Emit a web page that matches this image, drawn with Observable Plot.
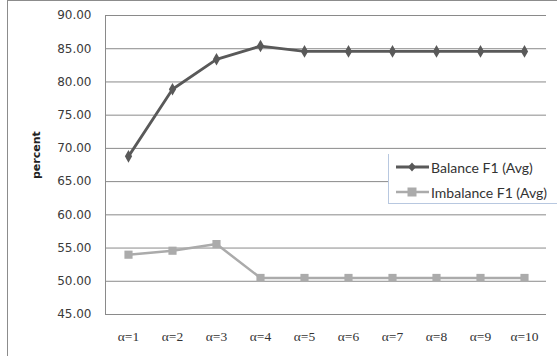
<!DOCTYPE html>
<html>
<head>
<meta charset="utf-8">
<script src="https://cdn.jsdelivr.net/npm/d3@7"></script>
<script src="https://cdn.jsdelivr.net/npm/@observablehq/plot@0.6"></script>
<style>
  html, body { margin: 0; padding: 0; background: #fff; }
  #wrap { position: relative; width: 557px; height: 356px; overflow: hidden; }
  #frame { position: absolute; left: 7px; top: 0; width: 560px; height: 360px;
           border-left: 1px solid #8c8c8c; border-top: 1px solid #8c8c8c; box-sizing: border-box; pointer-events: none; }
  #legend { position: absolute; left: 388px; top: 154px; width: 170px; height: 49px;
            background: #fff; border-left: 1px solid #b8c8e0; border-bottom: 1px solid #b8c8e0;
            font-family: Lato, "Liberation Sans", sans-serif; font-size: 14px; color: #333; }
  .item { position: absolute; left: 6px; height: 14px; display: flex; align-items: center; white-space: nowrap; }
  .item svg { margin-right: 1px; }
</style>
</head>
<body>
<div id="wrap">
  <div id="chart"></div>
  <div id="frame"></div>
  <div id="legend"></div>
</div>
<script>
// Categories along the x axis
const alphas = ["α=1", "α=2", "α=3", "α=4", "α=5", "α=6", "α=7", "α=8", "α=9", "α=10"];
// Average F1 (percent) for each setting
const balanceF1 = [68.8, 78.9, 83.4, 85.4, 84.6, 84.6, 84.6, 84.6, 84.6, 84.6];
const imbalanceF1 = [54.0, 54.6, 55.6, 50.5, 50.5, 50.5, 50.5, 50.5, 50.5, 50.5];
// Y axis ticks
const yTicks = [45, 50, 55, 60, 65, 70, 75, 80, 85, 90];

const seriesNames = ["Balance F1 (Avg)", "Imbalance F1 (Avg)"];
const balanceColor = "#595959";
const imbalanceColor = "#ababab";

const balance = alphas.map((a, i) => ({alpha: a, value: balanceF1[i]}));
const imbalance = alphas.map((a, i) => ({alpha: a, value: imbalanceF1[i]}));

const chart = Plot.plot({
  width: 557,
  height: 356,
  marginLeft: 105,
  marginRight: 11,
  marginTop: 15,
  marginBottom: 42,
  style: {background: "#fff", overflow: "visible"},
  x: {type: "point", domain: alphas, padding: 0.5, label: null},
  y: {domain: [45, 90], label: null},
  marks: [
    Plot.gridY(yTicks.filter(d => d > 45), {stroke: "#8a8a8a", strokeOpacity: 1, strokeWidth: 1}),
    Plot.ruleY([45], {stroke: "#8a8a8a", strokeWidth: 1}),
    Plot.frame({anchor: "left", stroke: "#8a8a8a"}),
    Plot.axisY(yTicks, {
      tickSize: 0, tickPadding: 14, tickFormat: d => d.toFixed(2),
      fontFamily: "DejaVu Sans", fontSize: 12, fill: "#3a3a3a", label: null
    }),
    Plot.text(["percent"], {
      frameAnchor: "left", dx: -69, dy: 14, rotate: -90,
      fontFamily: "DejaVu Sans", fontWeight: "bold", fontSize: 11, fill: "#222"
    }),
    Plot.axisX({
      tickSize: 0, tickPadding: 17, fontFamily: "Liberation Serif", fontSize: 13.5, fill: "#333", label: null
    }),
    Plot.lineY(imbalance, {x: "alpha", y: "value", stroke: imbalanceColor, strokeWidth: 2.5}),
    Plot.dot(imbalance, {x: "alpha", y: "value", symbol: "square", fill: imbalanceColor, r: 4.6}),
    Plot.lineY(balance, {x: "alpha", y: "value", stroke: balanceColor, strokeWidth: 2.8}),
    Plot.dot(balance, {x: "alpha", y: "value", symbol: "diamond", fill: balanceColor, r: 3.8})
  ]
});
document.getElementById("chart").appendChild(chart);

// Legend with line + marker swatches
const legend = document.getElementById("legend");
const swatches = [
  {name: seriesNames[0], color: balanceColor, sw: 3, shape: "diamond", top: 6},
  {name: seriesNames[1], color: imbalanceColor, sw: 2.5, shape: "square", top: 31}
];
for (const s of swatches) {
  const item = document.createElement("div");
  item.className = "item";
  item.style.top = s.top + "px";
  const marker = s.shape === "diamond"
    ? `<path d="M17 2.5 L21 7 L17 11.5 L13 7 Z" fill="${s.color}"/>`
    : `<rect x="12.5" y="2.5" width="9" height="9" fill="${s.color}"/>`;
  item.innerHTML = `<svg width="35" height="14"><line x1="1" x2="34" y1="7" y2="7" stroke="${s.color}" stroke-width="${s.sw}"/>${marker}</svg><span>${s.name}</span>`;
  legend.appendChild(item);
}
</script>
</body>
</html>
